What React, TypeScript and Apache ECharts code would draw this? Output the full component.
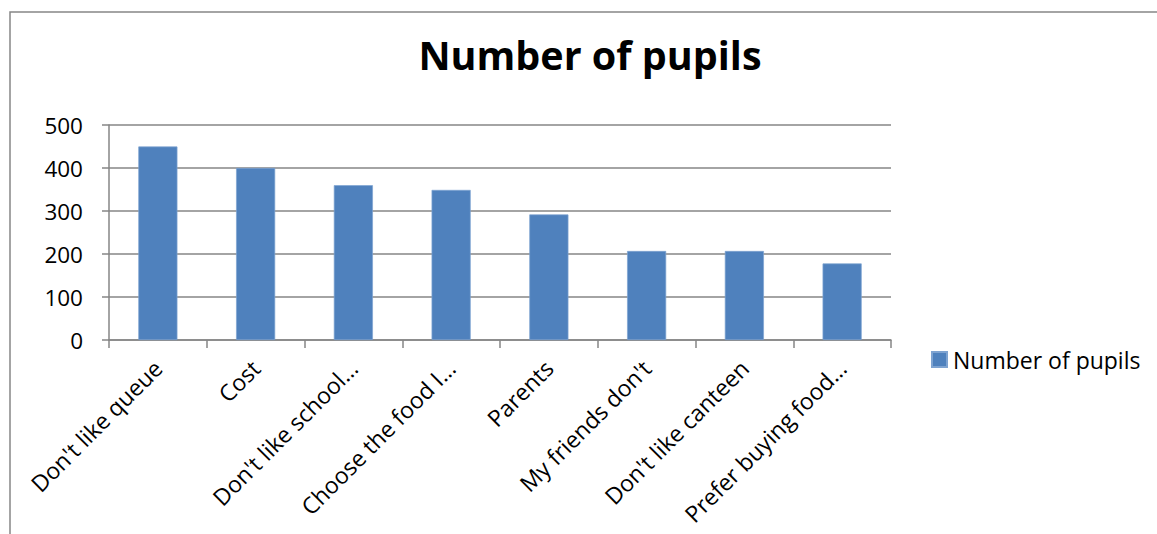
import React, { useEffect, useRef } from "react";
import * as echarts from "echarts";

const categories = [
  "Don't like queue",
  "Cost",
  "Don't like school…",
  "Choose the food I…",
  "Parents",
  "My friends don't",
  "Don't like canteen",
  "Prefer buying food…",
];
const pupils = [450, 400, 360, 349, 292, 207, 207, 178];
const seriesName = "Number of pupils";
const FONT = "'Open Sans', 'Noto Sans', sans-serif";

export default function App() {
  const ref = useRef<HTMLDivElement>(null);
  useEffect(() => {
    if (!ref.current) return;
    const chart = echarts.init(ref.current, null, { renderer: "svg" });
    chart.setOption({
      animation: false,
      backgroundColor: "#ffffff",
      title: {
        text: "Number of pupils",
        left: 585,
        textAlign: "center",
        top: 30,
        textStyle: { fontFamily: FONT, fontWeight: "bold", fontSize: 39.5, color: "#000" },
      },
      graphic: [
        {
          type: "rect",
          shape: { x: 10, y: 12, width: 1300, height: 700 },
          style: { fill: "none", stroke: "#868686", lineWidth: 1.5 },
          silent: true,
        },
      ],
      legend: {
        data: [seriesName],
        orient: "vertical",
        left: 926,
        top: 343,
        icon: "rect",
        itemWidth: 15,
        itemHeight: 15,
        itemGap: 7,
        textStyle: { fontFamily: FONT, fontSize: 23, color: "#000", padding: [0, 0, 0, 1] },
      },
      grid: { left: 109, right: 266, top: 125, bottom: 194, containLabel: false },
      xAxis: {
        type: "category",
        data: categories,
        axisLine: { lineStyle: { color: "#868686", width: 1.5 } },
        axisTick: { show: true, length: 8, lineStyle: { color: "#868686", width: 1.5 } },
        axisLabel: {
          rotate: 45,
          interval: 0,
          margin: 24,
          fontFamily: FONT,
          fontSize: 23,
          color: "#000",
        },
      },
      yAxis: {
        type: "value",
        min: 0,
        max: 500,
        interval: 100,
        axisLine: { show: true, lineStyle: { color: "#868686", width: 1.5 } },
        axisTick: { show: true, length: 7, lineStyle: { color: "#868686", width: 1.5 } },
        splitLine: { lineStyle: { color: "#868686", width: 1.5 } },
        axisLabel: { margin: 26, fontFamily: FONT, fontSize: 22.5, color: "#000" },
      },
      series: [
        {
          name: seriesName,
          type: "bar",
          data: pupils,
          barCategoryGap: "60%",
          itemStyle: { color: "#4F81BD", borderColor: "#7EA3D1", borderWidth: 0.7 },
        },
      ],
    });
    return () => chart.dispose();
  }, []);
  return (
    <div
      ref={ref}
      style={{ position: "fixed", left: 0, top: 0, width: 1157, height: 534 }}
    />
  );
}
